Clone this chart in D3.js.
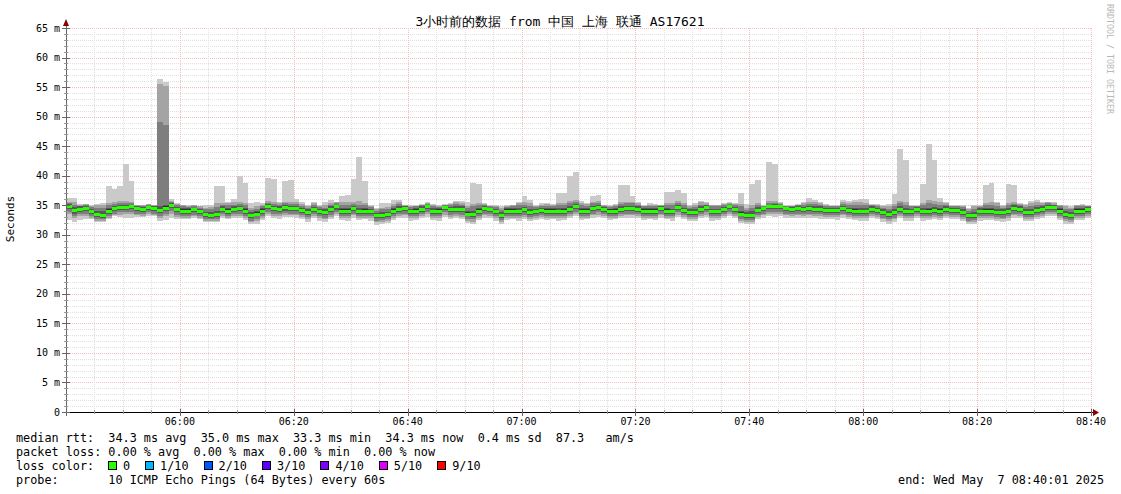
<!DOCTYPE html>
<html><head><meta charset="utf-8">
<script src="https://cdn.jsdelivr.net/npm/d3@7"></script>
<style>
body{margin:0;background:#fff}
text{font-family:"DejaVu Sans Mono",monospace;white-space:pre}
</style>
</head><body>
<svg id="c" width="1121" height="494" xmlns="http://www.w3.org/2000/svg"></svg>
<script>
// ---- data (one value per minute, 05:40 -> 08:40) ----
const med=[34.8,34.2,34.4,34.5,34.0,33.5,33.4,34.1,34.5,34.7,34.7,34.8,34.5,34.4,34.7,34.5,34.2,34.6,35.0,34.3,34.1,34.1,34.3,34.0,33.5,33.4,33.5,34.4,34.1,34.4,
34.5,34.1,33.3,33.6,34.1,34.8,34.5,34.4,34.7,34.5,34.5,34.2,33.9,34.4,34.0,33.8,34.3,34.8,34.1,34.1,34.5,34.0,34.1,34.0,33.3,33.4,33.5,34.1,34.4,34.5,
34.0,34.1,34.4,34.8,34.0,34.1,34.7,34.3,34.4,34.3,33.6,33.5,34.1,34.5,34.4,34.0,33.4,34.1,34.1,34.0,34.3,33.9,34.0,34.2,34.1,34.1,34.0,34.1,34.4,34.8,
34.1,34.1,34.5,34.7,34.4,34.1,34.1,34.4,34.5,34.5,34.4,34.1,34.1,34.1,34.5,34.1,34.0,34.7,34.2,33.9,33.9,34.4,34.7,34.0,34.0,34.4,34.8,34.4,33.6,33.4,
33.4,34.2,34.5,34.8,34.8,34.8,34.5,34.4,34.5,34.4,34.5,34.4,34.4,34.2,34.2,34.2,34.5,34.2,34.1,34.0,34.0,34.4,34.2,33.8,33.5,33.8,34.4,34.0,34.0,34.4,
34.0,34.1,34.2,34.1,34.4,34.2,34.2,33.9,33.3,33.4,34.0,34.1,34.1,33.9,33.8,34.0,34.5,34.4,33.9,33.9,34.2,34.4,34.7,34.7,34.1,33.5,33.4,34.1,34.1,34.4];
const maxRtt=[36.2,36.2,35.2,35.2,35.0,35.2,35.3,38.3,37.8,38.2,42.0,39.1,35.0,35.0,35.2,35.0,56.4,55.9,36.0,35.3,35.0,35.0,35.0,34.9,35.0,35.0,38.2,38.2,35.5,36.0,
40.0,38.8,35.3,35.6,35.3,39.6,39.4,35.5,39.1,39.3,36.0,35.5,35.0,35.6,35.0,35.6,35.9,35.6,36.6,36.8,39.4,43.1,39.1,35.0,34.6,35.3,35.3,35.9,35.9,35.1,
35.0,35.0,35.2,35.6,35.2,35.0,35.2,35.3,35.8,35.8,35.6,38.8,38.6,35.3,35.0,35.0,34.9,35.0,35.1,35.6,36.6,35.9,35.0,35.3,35.3,35.2,37.1,37.0,39.9,40.6,
35.8,35.3,36.6,36.8,35.1,35.0,35.2,38.5,38.5,36.5,35.6,35.0,35.3,35.2,35.0,37.3,37.3,37.5,37.1,35.0,35.3,35.7,35.5,35.1,35.1,35.3,35.6,35.3,37.0,35.2,
38.6,39.2,35.0,42.3,41.9,35.5,35.0,35.0,35.2,35.5,36.2,35.9,35.6,35.2,35.0,35.0,35.9,35.8,35.9,36.0,36.0,35.2,35.2,35.0,35.2,36.9,44.6,42.6,35.0,35.0,
38.6,45.4,42.6,36.2,35.6,35.0,35.0,35.0,34.6,35.0,35.0,38.5,38.8,35.6,35.0,38.6,38.5,35.3,35.2,35.7,35.9,35.6,35.6,35.5,35.1,35.0,34.8,35.1,35.2,35.0];
const hi2=[35.6,35.5,35.1,35.2,34.9,35.0,35.0,35.4,35.5,35.7,35.8,35.6,35.0,35.0,35.2,35.0,55.6,55.2,35.8,35.2,35.0,34.9,35.0,34.8,34.6,34.7,35.3,35.4,35.3,35.5,
35.5,35.3,34.6,34.8,35.0,35.7,35.5,35.3,35.6,35.5,35.5,35.2,34.9,35.3,34.9,35.0,35.4,35.5,35.6,35.5,35.6,35.7,35.4,34.9,34.3,34.6,34.7,35.2,35.5,35.0,
34.9,34.9,35.1,35.4,35.0,34.9,35.1,35.2,35.5,35.4,34.9,35.2,35.3,35.2,34.9,34.9,34.6,34.9,35.0,35.3,35.5,35.3,34.9,35.1,35.2,35.1,35.4,35.4,35.7,35.9,
35.3,35.2,35.6,35.8,35.0,34.9,35.1,35.5,35.6,35.6,35.4,34.9,35.1,35.1,35.0,35.4,35.3,35.7,35.4,34.9,35.0,35.5,35.3,35.0,35.0,35.2,35.4,35.2,35.2,34.5,
35.0,35.4,34.9,35.7,35.7,35.4,34.9,34.9,35.1,35.3,35.6,35.5,35.4,35.1,34.9,34.9,35.5,35.4,35.5,35.5,35.4,35.1,35.0,34.9,34.8,35.2,35.8,35.5,34.9,34.9,
35.4,35.9,35.7,35.5,35.3,34.9,34.9,34.9,34.4,34.8,34.9,35.4,35.5,35.3,34.9,35.4,35.5,35.2,35.0,35.3,35.5,35.4,35.5,35.3,35.0,34.9,34.6,35.0,35.1,34.9];
const hi3=[35.3,35.1,34.9,35.0,34.7,34.6,34.5,35.0,35.2,35.3,35.4,35.3,34.9,34.9,35.0,34.9,49.1,48.6,35.5,35.0,34.8,34.7,34.8,34.6,34.3,34.3,34.7,35.1,35.0,35.1,
35.2,35.0,34.2,34.4,34.8,35.4,35.2,35.1,35.3,35.2,35.2,34.9,34.6,35.0,34.7,34.6,35.1,35.3,35.1,35.1,35.2,35.0,35.1,34.7,34.0,34.3,34.3,34.9,35.2,34.9,
34.7,34.8,35.0,35.2,34.8,34.7,35.0,35.0,35.2,35.1,34.5,34.8,35.0,35.1,34.8,34.7,34.2,34.7,34.8,35.0,35.1,34.9,34.7,34.9,34.9,34.9,35.0,35.1,35.3,35.5,
35.0,34.9,35.3,35.4,34.9,34.7,34.9,35.2,35.3,35.3,35.1,34.8,34.9,34.9,34.9,35.0,35.0,35.3,35.1,34.6,34.7,35.1,35.1,34.8,34.8,35.0,35.2,35.0,34.8,34.2,
34.6,35.1,34.8,35.3,35.4,35.2,34.8,34.8,35.0,35.1,35.2,35.2,35.1,34.9,34.8,34.8,35.2,35.0,35.0,35.0,35.0,35.0,34.9,34.6,34.4,34.8,35.3,35.0,34.8,34.8,
35.0,35.3,35.2,35.1,35.1,34.8,34.8,34.7,34.1,34.4,34.7,35.1,35.1,34.9,34.6,35.0,35.2,35.0,34.7,34.8,35.1,35.1,35.3,35.1,34.8,34.4,34.3,34.8,34.9,34.8];
const hi4=[35.2,34.7,34.8,34.8,34.4,34.0,34.0,34.6,34.9,35.1,35.1,35.1,34.8,34.7,34.9,34.8,34.9,35.1,35.3,34.7,34.5,34.5,34.6,34.3,33.9,33.9,34.0,34.8,34.6,34.8,
34.9,34.6,33.8,34.0,34.5,35.2,34.9,34.8,35.0,34.9,34.9,34.6,34.3,34.7,34.4,34.3,34.8,35.1,34.6,34.6,34.9,34.5,34.5,34.4,33.7,33.9,33.9,34.5,34.8,34.8,
34.4,34.5,34.8,35.1,34.5,34.5,34.9,34.7,34.9,34.8,34.1,34.1,34.6,34.9,34.6,34.4,33.9,34.5,34.5,34.6,34.7,34.4,34.4,34.6,34.5,34.5,34.5,34.6,34.9,35.2,
34.5,34.5,34.9,35.1,34.7,34.4,34.5,34.8,34.9,34.9,34.8,34.5,34.5,34.5,34.8,34.5,34.4,35.0,34.6,34.3,34.3,34.8,35.0,34.4,34.4,34.7,35.1,34.7,34.1,33.9,
34.0,34.7,34.7,35.1,35.2,35.1,34.7,34.7,34.8,34.7,34.9,34.8,34.8,34.6,34.6,34.6,34.9,34.6,34.6,34.5,34.5,34.8,34.6,34.3,34.0,34.3,34.8,34.5,34.4,34.7,
34.5,34.6,34.7,34.6,34.9,34.6,34.6,34.3,33.7,33.9,34.5,34.6,34.6,34.4,34.3,34.5,35.0,34.8,34.4,34.4,34.7,34.8,35.1,35.0,34.5,34.0,33.9,34.6,34.6,34.7];
const hi5=[35.0,34.4,34.6,34.7,34.2,33.7,33.6,34.3,34.7,34.9,34.9,35.0,34.7,34.6,34.8,34.7,34.4,34.8,35.1,34.5,34.3,34.3,34.5,34.2,33.7,33.6,33.7,34.6,34.3,34.6,
34.7,34.3,33.5,33.8,34.3,35.0,34.7,34.6,34.9,34.7,34.7,34.4,34.1,34.6,34.2,34.0,34.5,35.0,34.3,34.3,34.7,34.2,34.3,34.2,33.5,33.6,33.7,34.3,34.6,34.7,
34.2,34.3,34.6,35.0,34.2,34.3,34.8,34.5,34.6,34.5,33.8,33.7,34.3,34.7,34.6,34.2,33.6,34.3,34.3,34.2,34.5,34.1,34.2,34.4,34.3,34.3,34.2,34.3,34.6,35.0,
34.3,34.3,34.7,34.9,34.6,34.3,34.3,34.6,34.7,34.7,34.6,34.3,34.3,34.3,34.7,34.3,34.2,34.9,34.4,34.1,34.1,34.6,34.9,34.2,34.2,34.6,35.0,34.6,33.8,33.6,
33.6,34.4,34.6,35.0,35.0,35.0,34.6,34.6,34.7,34.6,34.7,34.6,34.6,34.4,34.4,34.4,34.7,34.4,34.3,34.2,34.2,34.6,34.4,34.0,33.7,34.0,34.6,34.2,34.2,34.6,
34.2,34.3,34.4,34.3,34.6,34.4,34.4,34.1,33.5,33.6,34.2,34.3,34.3,34.1,34.0,34.2,34.7,34.6,34.1,34.1,34.4,34.6,34.9,34.9,34.3,33.7,33.6,34.3,34.3,34.6];
const lo5=[34.6,34.0,34.2,34.3,33.8,33.3,33.2,33.9,34.3,34.5,34.5,34.6,34.3,34.2,34.5,34.3,34.0,34.4,34.8,34.1,33.9,33.9,34.1,33.8,33.3,33.2,33.3,34.2,33.9,34.2,
34.3,33.9,33.1,33.4,33.9,34.6,34.3,34.2,34.5,34.3,34.3,34.0,33.7,34.2,33.8,33.6,34.1,34.6,33.9,33.9,34.3,33.8,33.9,33.8,33.1,33.2,33.3,33.9,34.2,34.3,
33.8,33.9,34.2,34.6,33.8,33.9,34.5,34.1,34.2,34.1,33.4,33.3,33.9,34.3,34.2,33.8,33.2,33.9,33.9,33.8,34.1,33.7,33.8,34.0,33.9,33.9,33.8,33.9,34.2,34.6,
33.9,33.9,34.3,34.5,34.2,33.9,33.9,34.2,34.3,34.3,34.2,33.9,33.9,33.9,34.3,33.9,33.8,34.5,34.0,33.7,33.7,34.2,34.5,33.8,33.8,34.2,34.6,34.2,33.4,33.2,
33.2,34.0,34.3,34.6,34.6,34.6,34.3,34.2,34.3,34.2,34.3,34.2,34.2,34.0,34.0,34.0,34.3,34.0,33.9,33.8,33.8,34.2,34.0,33.6,33.3,33.6,34.2,33.8,33.8,34.2,
33.8,33.9,34.0,33.9,34.2,34.0,34.0,33.7,33.1,33.2,33.8,33.9,33.9,33.7,33.6,33.8,34.3,34.2,33.7,33.7,34.0,34.2,34.5,34.5,33.9,33.3,33.2,33.9,33.9,34.2];
const lo4=[34.3,33.6,33.9,34.0,33.5,33.0,32.9,33.6,34.0,34.2,34.2,34.3,34.0,33.9,34.2,34.0,33.7,34.1,34.5,33.8,33.6,33.6,33.8,33.5,33.0,32.9,33.0,33.9,33.6,33.9,
34.0,33.5,32.8,33.1,33.6,34.3,34.0,33.9,34.1,34.0,34.0,33.7,33.4,33.9,33.5,33.3,33.8,34.2,33.6,33.5,34.0,33.5,33.6,33.5,32.8,32.9,33.0,33.6,33.9,34.0,
33.5,33.6,33.9,34.3,33.5,33.6,34.2,33.8,33.9,33.8,33.1,33.0,33.6,34.0,33.9,33.5,32.9,33.6,33.6,33.5,33.8,33.4,33.5,33.7,33.6,33.6,33.5,33.6,33.9,34.3,
33.6,33.6,34.0,34.2,33.9,33.6,33.6,33.9,34.0,34.0,33.9,33.6,33.6,33.6,34.0,33.6,33.5,34.2,33.7,33.4,33.4,33.9,34.2,33.5,33.5,33.9,34.3,33.9,33.1,32.9,
32.9,33.7,34.0,34.3,34.3,34.3,34.0,33.9,34.0,33.9,34.0,33.9,33.9,33.7,33.7,33.7,34.0,33.7,33.6,33.5,33.5,33.9,33.7,33.3,33.0,33.3,33.9,33.5,33.5,33.9,
33.5,33.6,33.7,33.6,33.9,33.7,33.7,33.4,32.8,32.9,33.5,33.6,33.6,33.4,33.3,33.5,34.0,33.9,33.4,33.4,33.7,33.9,34.2,34.2,33.6,33.0,32.9,33.6,33.6,33.9];
const lo3=[33.9,33.2,33.5,33.6,33.1,32.7,32.6,33.2,33.6,33.8,33.8,33.9,33.6,33.5,33.8,33.6,33.2,33.6,34.0,33.4,33.2,33.2,33.4,33.1,32.7,32.6,32.7,33.5,33.2,33.5,
33.6,33.2,32.4,32.7,33.2,33.9,33.6,33.5,33.7,33.6,33.6,33.3,33.0,33.5,33.1,32.9,33.4,33.8,33.2,33.1,33.6,33.1,33.2,33.1,32.4,32.5,32.6,33.2,33.5,33.6,
33.1,33.2,33.5,33.9,33.1,33.2,33.8,33.4,33.5,33.4,32.7,32.6,33.2,33.6,33.5,33.1,32.5,33.2,33.2,33.1,33.4,33.0,33.1,33.3,33.2,33.2,33.1,33.2,33.5,33.9,
33.2,33.2,33.6,33.8,33.5,33.2,33.2,33.5,33.6,33.6,33.5,33.2,33.2,33.2,33.6,33.2,33.1,33.8,33.3,33.0,33.0,33.5,33.8,33.1,33.1,33.5,33.9,33.5,32.7,32.5,
32.5,33.3,33.6,33.9,33.9,33.9,33.6,33.5,33.6,33.5,33.6,33.5,33.5,33.3,33.3,33.3,33.6,33.3,33.2,33.1,33.1,33.5,33.3,32.9,32.6,32.9,33.5,33.1,33.1,33.5,
33.1,33.2,33.3,33.2,33.5,33.3,33.3,33.0,32.4,32.5,33.1,33.2,33.2,33.0,32.9,33.1,33.6,33.5,33.0,33.0,33.3,33.5,33.8,33.8,33.2,32.6,32.5,33.2,33.2,33.5];
const lo2=[33.5,32.8,33.1,33.2,32.8,32.4,32.3,32.9,33.3,33.4,33.5,33.5,33.3,33.2,33.5,33.3,32.8,33.2,33.6,33.0,32.9,32.9,33.1,32.8,32.4,32.3,32.4,33.1,32.9,33.1,
33.2,32.9,32.1,32.4,32.9,33.5,33.2,33.1,33.4,33.3,33.3,33.0,32.7,33.2,32.8,32.6,33.0,33.5,32.8,32.8,33.3,32.8,32.9,32.8,32.1,32.2,32.3,32.9,33.2,33.3,
32.8,32.9,33.2,33.5,32.8,32.9,33.4,33.0,33.1,33.0,32.4,32.2,32.9,33.3,33.1,32.8,32.2,32.9,32.9,32.8,33.0,32.7,32.8,33.0,32.9,32.9,32.8,32.9,33.2,33.5,
32.9,32.9,33.3,33.4,33.2,32.9,32.9,33.2,33.3,33.3,33.2,32.9,32.9,32.9,33.3,32.9,32.8,33.4,33.0,32.7,32.7,33.2,33.4,32.8,32.8,33.2,33.5,33.2,32.4,32.2,
32.2,33.0,33.3,33.5,33.5,33.5,33.3,33.2,33.3,33.2,33.3,33.2,33.2,33.0,33.0,33.0,33.3,33.0,32.9,32.8,32.8,33.2,33.0,32.6,32.3,32.6,33.2,32.8,32.8,33.2,
32.8,32.9,33.0,32.9,33.2,33.0,33.0,32.7,32.1,32.2,32.8,32.9,32.9,32.7,32.6,32.8,33.3,33.2,32.7,32.7,33.0,33.2,33.5,33.5,32.9,32.3,32.2,32.9,32.9,33.2];
const minRtt=[32.5,32.2,32.5,32.7,32.6,32.2,32.1,32.7,33.1,33.0,32.8,32.8,33.0,33.0,33.2,33.1,32.4,32.5,32.9,32.7,32.7,32.7,32.9,32.6,32.2,32.1,32.2,32.9,32.7,32.8,
32.8,32.5,31.8,31.9,32.5,33.1,32.9,32.7,33.0,33.0,32.9,32.6,32.1,32.8,32.4,32.2,32.6,33.1,32.5,32.4,32.9,32.5,32.6,32.4,31.7,31.9,32.0,32.5,32.9,32.9,
32.4,32.5,32.8,33.0,32.5,32.4,33.0,32.6,32.8,32.6,32.0,31.9,32.5,32.9,32.8,32.4,31.8,32.5,32.6,32.4,32.6,32.3,32.5,32.6,32.5,32.6,32.4,32.5,32.8,33.1,
32.5,32.6,32.9,33.0,32.8,32.5,32.6,32.8,32.9,32.9,32.8,32.5,32.6,32.5,32.9,32.6,32.4,33.0,32.7,32.3,32.3,32.8,33.0,32.4,32.5,32.9,33.1,32.8,32.0,31.9,
31.9,32.6,32.9,33.1,33.0,33.1,32.8,32.8,32.9,32.8,32.9,32.8,32.7,32.6,32.6,32.5,32.9,32.6,32.5,32.4,32.4,32.8,32.6,32.2,31.9,32.2,32.8,32.4,32.4,32.8,
32.4,32.5,32.6,32.5,32.8,32.6,32.6,32.3,31.8,31.9,32.4,32.5,32.5,32.3,32.2,32.4,32.9,32.8,32.3,32.3,32.6,32.8,33.1,33.1,32.5,31.9,31.8,32.5,32.5,32.8];

const xTickLabels=["06:00","06:20","06:40","07:00","07:20","07:40","08:00","08:20","08:40"];
const yTickValues=[0,5,10,15,20,25,30,35,40,45,50,55,60,65];
const lossLabels=["0","1/10","2/10","3/10","4/10","5/10","9/10"];
const lossColors=["#26ff00","#00b8ff","#0059ff","#5e00ff","#7e00ff","#dd00ff","#ff0000"];
const titleText="3小时前的数据 from 中国 上海 联通 AS17621";
const legendLines=[
 "median rtt:  34.3 ms avg  35.0 ms max  33.3 ms min  34.3 ms now  0.4 ms sd  87.3   am/s",
 "packet loss: 0.00 % avg  0.00 % max  0.00 % min  0.00 % now",
 "loss color:",
 "probe:       10 ICMP Echo Pings (64 Bytes) every 60s"];
const endText="end: Wed May  7 08:40:01 2025";

// ---- drawing ----
const svg=d3.select("#c");
const N=med.length;
const x=d3.scaleLinear().domain([0,180]).range([66,1091]);
const y=d3.scaleLinear().domain([0,65]).range([412,28]);

svg.append("rect").attr("width",1121).attr("height",494).attr("fill","#fff");

// grid
const g=svg.append("g").attr("shape-rendering","crispEdges");
d3.range(1,66,1).forEach(v=>{
  const major=v%5===0;
  g.append("line").attr("x1",66).attr("x2",1092).attr("y1",Math.round(y(v))+0.5).attr("y2",Math.round(y(v))+0.5)
   .attr("stroke",major?"#f6bcbc":"#e0e0e0").attr("stroke-dasharray","1,1").attr("stroke-width",1);
});
d3.range(5,181,5).forEach(m=>{
  const major=m%20===0;
  g.append("line").attr("y1",28).attr("y2",412).attr("x1",Math.round(x(m))+0.5).attr("x2",Math.round(x(m))+0.5)
   .attr("stroke",major?"#f6bcbc":"#e0e0e0").attr("stroke-dasharray","1,1").attr("stroke-width",1);
});

// smoke bands
const bands=[[minRtt,maxRtt,"#cacaca"],[lo2,hi2,"#a4a4a4"],[lo3,hi3,"#7e7e7e"],[lo4,hi4,"#585858"],[lo5,hi5,"#323232"]];
const dg=svg.append("g").attr("shape-rendering","crispEdges");
bands.forEach(([lo,hi,col])=>{
  dg.selectAll(null).data(d3.range(N)).enter().append("rect")
    .attr("x",i=>Math.round(x(i))).attr("width",i=>Math.round(x(i+1))-Math.round(x(i)))
    .attr("y",i=>Math.round(y(hi[i]))).attr("height",i=>Math.max(1,Math.round(y(lo[i]))-Math.round(y(hi[i]))))
    .attr("fill",col);
});
// median
dg.selectAll(null).data(d3.range(N)).enter().append("rect")
  .attr("x",i=>Math.round(x(i))).attr("width",i=>Math.round(x(i+1))-Math.round(x(i)))
  .attr("y",i=>Math.round(y(med[i]))-1).attr("height",3).attr("fill",lossColors[0]);

// axes
const ax=svg.append("g").attr("shape-rendering","crispEdges");
ax.append("line").attr("x1",66.5).attr("x2",66.5).attr("y1",412).attr("y2",24).attr("stroke","#666");
ax.append("line").attr("x1",62).attr("x2",1094).attr("y1",412.5).attr("y2",412.5).attr("stroke","#000");
yTickValues.forEach(v=>{
  ax.append("line").attr("x1",62).attr("x2",70).attr("y1",Math.round(y(v))+0.5).attr("y2",Math.round(y(v))+0.5).attr("stroke","#666");
});
d3.range(0,66,1).forEach(v=>{ if(v%5) ax.append("line").attr("x1",64).attr("x2",68).attr("y1",Math.round(y(v))+0.5).attr("y2",Math.round(y(v))+0.5).attr("stroke","#999");});
d3.range(0,181,5).forEach(m=>{
  const major=m%20===0;
  ax.append("line").attr("x1",Math.round(x(m))+0.5).attr("x2",Math.round(x(m))+0.5).attr("y1",major?409:410).attr("y2",major?416:414).attr("stroke",major?"#666":"#999");
});
svg.append("path").attr("d","M63,26 L69,26 L66,19 Z").attr("fill","#8b0000");
svg.append("path").attr("d","M1093,409 L1093,416 L1099,412.5 Z").attr("fill","#8b0000");

// tick labels
yTickValues.forEach(v=>{
  svg.append("text").attr("x",60).attr("y",y(v)+3.5).attr("text-anchor","end").attr("font-size","10px").attr("fill","#000")
    .text(v===0?"0":v+" m");
});
xTickLabels.forEach((t,k)=>{
  svg.append("text").attr("x",x((k+1)*20)).attr("y",425).attr("text-anchor","middle").attr("font-size","10px").attr("fill","#000").text(t);
});

// titles
svg.append("text").attr("x",560).attr("y",26).attr("text-anchor","middle").attr("font-size","13px").attr("fill","#000").text(titleText);
svg.append("text").attr("transform","translate(14,219) rotate(-90)").attr("text-anchor","middle").attr("font-size","11px").attr("fill","#000").text("Seconds");
svg.append("text").attr("transform","translate(1107,4) rotate(90)").attr("text-anchor","start").attr("font-size","8.3px").attr("fill","#b8b8b8").text("RRDTOOL / TOBI OETIKER");

// legend
const fs=11.8;
legendLines.forEach((t,k)=>{
  svg.append("text").attr("x",16).attr("y",442+k*14).attr("font-size",fs+"px").attr("fill","#000").text(t);
});
let bx=108;
lossLabels.forEach((lab,k)=>{
  svg.append("rect").attr("x",bx+0.5).attr("y",461.5).attr("width",8).attr("height",8).attr("fill",lossColors[k]).attr("stroke","#000").attr("shape-rendering","crispEdges");
  const tx=svg.append("text").attr("x",bx+15).attr("y",470).attr("font-size",fs+"px").attr("fill","#000").text(lab);
  bx=bx+15+tx.node().getComputedTextLength()+15;
});
svg.append("text").attr("x",1104).attr("y",484).attr("text-anchor","end").attr("font-size",fs+"px").attr("fill","#000").text(endText);
</script>
</body></html>
